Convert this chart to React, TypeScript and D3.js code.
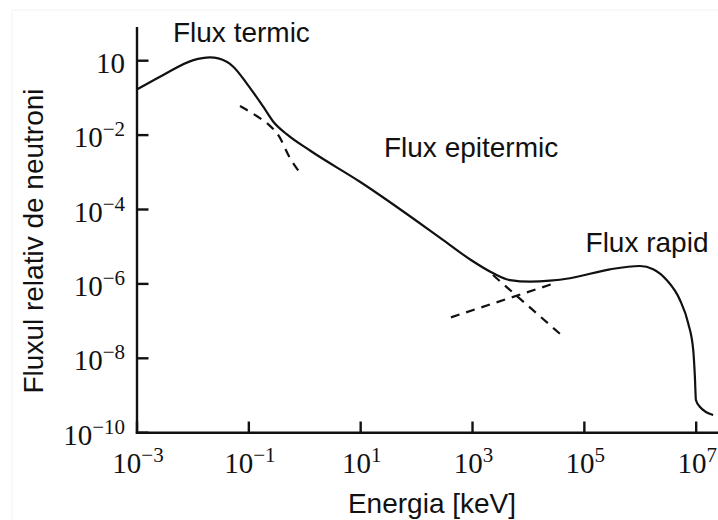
import React, { useEffect, useRef } from 'react';
import * as d3 from 'd3';

// energy in keV, relative flux
const energy = [
  1.01e-3, 2.95e-3, 1.02e-2, 2.02e-2, 4.02e-2, 5.27e-2, 9.14e-2, 0.181, 0.274, 0.475,
  1.24, 9.7, 300, 938, 2350, 4670, 1.06e4, 2.43e4, 5.52e4, 2.86e5,
  9.86e5, 1.7e6, 2.96e6, 5.12e6, 7.19e6, 8.85e6, 9.48e6, 9.89e6, 1.16e7, 2.01e7,
];
const flux = [
  0.17, 0.413, 1.04, 1.23, 0.94, 0.69, 0.247, 5.79e-2, 2.29e-2, 1.06e-2,
  3.85e-3, 5.58e-4, 1.51e-5, 4.39e-6, 1.93e-6, 1.27e-6, 1.15e-6, 1.22e-6, 1.42e-6, 2.47e-6,
  3.03e-6, 2.47e-6, 1.27e-6, 3.69e-7, 8.73e-8, 1.67e-8, 3.2e-9, 7.57e-10, 5.0e-10, 2.99e-10,
];

// dashed extrapolations
const thermalE = [6.95e-2, 0.138, 0.22, 0.35, 0.528, 0.881];
const thermalF = [6.05e-2, 3.26e-2, 1.99e-2, 9.06e-3, 2.62e-3, 8.45e-4];
const fastE = [411, 2.94e4];
const fastF = [1.26e-7, 1.04e-6];
const epiE = [2320, 4.19e4];
const epiF = [1.73e-6, 3.81e-8];

const xTicks = [1e-3, 1e-1, 1e1, 1e3, 1e5, 1e7];
const xTickExp = ['−3', '−1', '1', '3', '5', '7'];
const yTicks = [1, 1e-2, 1e-4, 1e-6, 1e-8, 1e-10];
const yTickBase = ['10', '10', '10', '10', '10', '10'];
const yTickExp = ['', '−2', '−4', '−6', '−8', '−10'];

const labels = [
  { text: 'Flux termic', e: 4.4e-3, f: 3.24 },
  { text: 'Flux epitermic', e: 26.1, f: 2.62e-3 },
  { text: 'Flux rapid', e: 1.05e5, f: 7.34e-6 },
];

const SANS = 'Liberation Sans, Arial, Helvetica, sans-serif';
const SERIF = 'Liberation Serif, Times New Roman, serif';

const App = () => {
  const ref = useRef<SVGSVGElement>(null);

  useEffect(() => {
    const svg = d3.select(ref.current);
    svg.selectAll('*').remove();

    const x = d3.scaleLog().domain([1e-3, Math.pow(10, 7.39)]).range([137, 718]);
    const y = d3.scaleLog().domain([1e-10, Math.pow(10, 0.906)]).range([432.7, 27]);

    // faint frame of the scanned figure
    svg.append('path')
      .attr('d', 'M12,520 L12,10 L718,10')
      .attr('fill', 'none')
      .attr('stroke', '#f2f2f2')
      .attr('stroke-width', 1);

    // axes
    const g = svg.append('g').attr('stroke', '#111').attr('stroke-width', 2.4);
    g.append('line').attr('x1', 137).attr('x2', 137).attr('y1', 27).attr('y2', 433.9);
    g.append('line').attr('x1', 135.8).attr('x2', 718).attr('y1', 432.7).attr('y2', 432.7);
    g.selectAll('.xt').data(xTicks).enter().append('line')
      .attr('x1', d => x(d)).attr('x2', d => x(d))
      .attr('y1', 432.7).attr('y2', 421.5);
    g.selectAll('.yt').data(yTicks).enter().append('line')
      .attr('x1', 137).attr('x2', 148.5)
      .attr('y1', d => y(d)).attr('y2', d => y(d));

    // tick labels
    const xl = svg.selectAll('.xl').data(xTicks).enter().append('text')
      .attr('x', d => x(d) + 1)
      .attr('y', 473)
      .attr('text-anchor', 'middle')
      .attr('font-family', SERIF)
      .attr('font-size', 29)
      .attr('fill', '#111');
    xl.append('tspan').text('10');
    xl.append('tspan').attr('dy', -11).attr('font-size', 21).text((d, i) => xTickExp[i]);

    const yl = svg.selectAll('.yl').data(yTicks).enter().append('text')
      .attr('x', 125)
      .attr('y', d => y(d) + 12)
      .attr('text-anchor', 'end')
      .attr('font-family', SERIF)
      .attr('font-size', 29)
      .attr('fill', '#111');
    yl.append('tspan').text((d, i) => yTickBase[i]);
    yl.append('tspan').attr('dy', -11).attr('font-size', 21).text((d, i) => yTickExp[i]);

    // axis titles
    svg.append('text')
      .attr('x', 432).attr('y', 513)
      .attr('text-anchor', 'middle')
      .attr('font-family', SANS).attr('font-size', 28).attr('fill', '#111')
      .text('Energia [keV]');
    svg.append('text')
      .attr('transform', 'translate(43,241) rotate(-90)')
      .attr('text-anchor', 'middle')
      .attr('font-family', SANS).attr('font-size', 28).attr('fill', '#111')
      .text('Fluxul relativ de neutroni');

    // curves
    const line = d3.line<[number, number]>()
      .x(d => x(d[0]))
      .y(d => y(d[1]))
      .curve(d3.curveMonotoneX);

    svg.append('path')
      .attr('d', line(energy.map((e, i) => [e, flux[i]]) as [number, number][]))
      .attr('fill', 'none').attr('stroke', '#111').attr('stroke-width', 2.2);

    const dashed = [
      [thermalE, thermalF],
      [fastE, fastF],
      [epiE, epiF],
    ];
    dashed.forEach(([es, fs]) => {
      svg.append('path')
        .attr('d', line(es.map((e, i) => [e, fs[i]]) as [number, number][]))
        .attr('fill', 'none').attr('stroke', '#111').attr('stroke-width', 2.2)
        .attr('stroke-dasharray', '9,7');
    });

    // region labels
    svg.selectAll('.lab').data(labels).enter().append('text')
      .attr('x', d => x(d.e))
      .attr('y', d => y(d.f))
      .attr('font-family', SANS).attr('font-size', 28).attr('fill', '#111')
      .text(d => d.text);
  }, []);

  return (
    <svg
      ref={ref}
      width={718}
      height={520}
      style={{ position: 'absolute', left: 0, top: 0, background: '#fff' }}
    ></svg>
  );
};

export default App;
